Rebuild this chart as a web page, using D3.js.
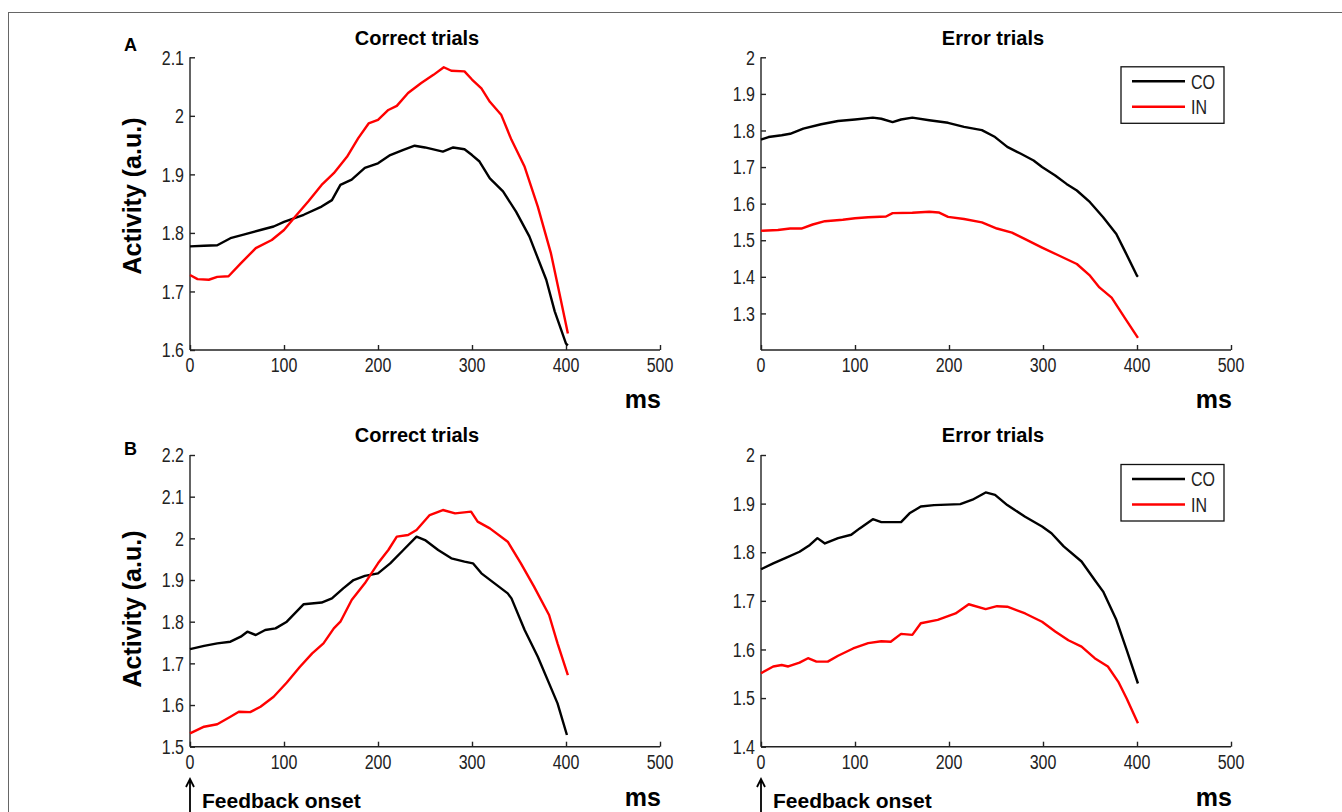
<!DOCTYPE html>
<html>
<head>
<meta charset="utf-8">
<script src="https://cdn.jsdelivr.net/npm/d3@7"></script>
<style>
  html, body { margin: 0; padding: 0; background: #fff; }
  svg { display: block; }
  .tick-label { font-family: "Liberation Sans", Arial, sans-serif; font-size: 20px; fill: #222; }
  .bold { font-family: "Liberation Sans", Arial, sans-serif; font-weight: bold; fill: #000; }
</style>
</head>
<body>
<svg id="fig" width="1342" height="812"></svg>
<script>
// ---- data: [ms, activity] samples for each condition ----
const msTicks = [0, 100, 200, 300, 400, 500];
const seriesNames = ["CO", "IN"];
const seriesColors = ["#000000", "#ff0000"];

const aCorrectCO = [[0,1.777],[15,1.778],[29,1.779],[43,1.791],[57,1.797],[75,1.805],[89,1.811],[100,1.819],[121,1.831],[140,1.845],[151,1.856],[160,1.882],[172,1.891],[186,1.911],[200,1.919],[213,1.933],[227,1.942],[239,1.949],[250,1.946],[269,1.939],[280,1.946],[292,1.943],[300,1.933],[308,1.922],[319,1.893],[333,1.871],[347,1.836],[361,1.794],[379,1.720],[388,1.666],[400,1.611],[402,1.608]];
const aCorrectIN = [[0,1.728],[8,1.721],[20,1.720],[29,1.725],[41,1.726],[54,1.748],[70,1.774],[87,1.788],[100,1.805],[112,1.828],[126,1.854],[140,1.882],[153,1.902],[167,1.930],[179,1.962],[190,1.987],[200,1.993],[211,2.010],[220,2.017],[232,2.039],[246,2.056],[259,2.070],[270,2.083],[278,2.077],[292,2.076],[300,2.062],[310,2.047],[319,2.024],[331,2.002],[342,1.959],[356,1.913],[370,1.845],[384,1.765],[393,1.697],[402,1.628]];
const aErrorCO = [[0,1.775],[8,1.782],[22,1.787],[31,1.791],[45,1.805],[64,1.817],[82,1.826],[100,1.830],[119,1.835],[128,1.832],[140,1.823],[149,1.830],[161,1.835],[179,1.828],[199,1.821],[216,1.810],[235,1.801],[249,1.782],[262,1.755],[276,1.737],[290,1.718],[299,1.700],[313,1.677],[325,1.654],[336,1.636],[350,1.604],[364,1.563],[378,1.517],[387,1.471],[400,1.403],[401,1.400]];
const aErrorIN = [[0,1.526],[18,1.528],[31,1.532],[43,1.532],[55,1.543],[68,1.552],[87,1.556],[100,1.560],[114,1.563],[133,1.565],[140,1.574],[161,1.575],[179,1.578],[189,1.576],[199,1.564],[216,1.558],[235,1.549],[251,1.532],[267,1.521],[281,1.503],[299,1.480],[318,1.457],[336,1.435],[350,1.403],[360,1.371],[373,1.343],[387,1.288],[401,1.233]];
const bCorrectCO = [[0,1.734],[15,1.742],[29,1.748],[43,1.752],[54,1.764],[61,1.776],[70,1.768],[80,1.780],[91,1.784],[103,1.800],[121,1.842],[140,1.846],[151,1.856],[163,1.880],[174,1.900],[186,1.910],[200,1.916],[213,1.940],[227,1.972],[241,2.004],[250,1.996],[264,1.972],[278,1.952],[292,1.944],[301,1.940],[310,1.916],[324,1.892],[338,1.868],[342,1.856],[356,1.780],[370,1.716],[382,1.652],[391,1.604],[401,1.528]];
const bCorrectIN = [[0,1.532],[15,1.548],[29,1.554],[43,1.572],[52,1.584],[64,1.583],[75,1.596],[89,1.620],[103,1.654],[117,1.692],[130,1.724],[142,1.748],[153,1.784],[160,1.800],[172,1.852],[186,1.892],[200,1.940],[211,1.972],[220,2.004],[232,2.008],[241,2.020],[255,2.056],[269,2.068],[282,2.060],[299,2.064],[306,2.040],[319,2.024],[338,1.992],[352,1.940],[366,1.884],[382,1.816],[391,1.748],[402,1.672]];
const bErrorCO = [[0,1.765],[13,1.777],[27,1.789],[41,1.801],[52,1.815],[60,1.829],[68,1.818],[82,1.829],[96,1.836],[105,1.849],[119,1.868],[128,1.862],[149,1.862],[158,1.880],[170,1.894],[184,1.897],[212,1.899],[225,1.908],[239,1.923],[249,1.918],[262,1.897],[281,1.873],[299,1.853],[309,1.839],[322,1.812],[341,1.781],[355,1.743],[364,1.719],[378,1.661],[389,1.599],[401,1.530]];
const bErrorIN = [[0,1.551],[13,1.565],[22,1.568],[29,1.565],[41,1.573],[50,1.582],[59,1.575],[71,1.575],[82,1.587],[98,1.602],[114,1.613],[128,1.617],[138,1.616],[149,1.632],[161,1.630],[170,1.654],[188,1.661],[207,1.674],[221,1.693],[239,1.683],[251,1.689],[262,1.688],[281,1.674],[299,1.657],[313,1.637],[327,1.619],[341,1.606],[355,1.582],[369,1.565],[380,1.534],[389,1.499],[401,1.448]];

const aCorrectTicks = [1.6, 1.7, 1.8, 1.9, 2.0, 2.1];
const aErrorTicks = [1.3, 1.4, 1.5, 1.6, 1.7, 1.8, 1.9, 2.0];
const bCorrectTicks = [1.5, 1.6, 1.7, 1.8, 1.9, 2.0, 2.1, 2.2];
const bErrorTicks = [1.4, 1.5, 1.6, 1.7, 1.8, 1.9, 2.0];

// ---- panel layout ----
const panels = [
  { title: "Correct trials", yDomain: [1.6, 2.1], yTicks: aCorrectTicks, series: [aCorrectCO, aCorrectIN],
    left: 190, right: 660, top: 57.3, bottom: 350, titleX: 417, titleY: 45, legend: false, onset: false },
  { title: "Error trials", yDomain: [1.2, 2.0], yTicks: aErrorTicks, series: [aErrorCO, aErrorIN],
    left: 761, right: 1231, top: 57.3, bottom: 350, titleX: 993, titleY: 45, legend: true, onset: false },
  { title: "Correct trials", yDomain: [1.5, 2.2], yTicks: bCorrectTicks, series: [bCorrectCO, bCorrectIN],
    left: 190, right: 660, top: 455, bottom: 746.7, titleX: 417, titleY: 442, legend: false, onset: true },
  { title: "Error trials", yDomain: [1.4, 2.0], yTicks: bErrorTicks, series: [bErrorCO, bErrorIN],
    left: 761, right: 1231, top: 455, bottom: 746.7, titleX: 993, titleY: 442, legend: true, onset: true }
];

const svg = d3.select("#fig");

// condensed label: regular face squeezed horizontally around its anchor
function narrowText(parent, x, y, anchor, str) {
  return parent.append("text")
    .attr("class", "tick-label")
    .attr("text-anchor", anchor)
    .attr("transform", `translate(${x},${y}) scale(0.8,1)`)
    .text(str);
}

// outer frame
svg.append("rect")
  .attr("x", 8.5).attr("y", 12.5).attr("width", 1345).attr("height", 820)
  .attr("fill", "none").attr("stroke", "#666").attr("stroke-width", 1);

// panel letters and y-axis labels
[["A", 51, 196], ["B", 455, 609]].forEach(([letter, ly, labelY]) => {
  svg.append("text").attr("class", "bold").attr("x", 124).attr("y", ly)
    .attr("font-size", 18).text(letter);
  svg.append("text").attr("class", "bold")
    .attr("transform", `translate(141,${labelY}) rotate(-90)`)
    .attr("text-anchor", "middle").attr("font-size", 25)
    .text("Activity (a.u.)");
});

panels.forEach(p => {
  const x = d3.scaleLinear().domain([0, 500]).range([p.left, p.right]);
  const y = d3.scaleLinear().domain(p.yDomain).range([p.bottom, p.top]);
  const g = svg.append("g");

  // title
  g.append("text").attr("class", "bold")
    .attr("x", p.titleX).attr("y", p.titleY)
    .attr("text-anchor", "middle").attr("font-size", 20)
    .text(p.title);

  // x axis with inward ticks
  const xAxis = g.append("g").attr("transform", `translate(0,${p.bottom})`)
    .call(d3.axisTop(x).tickValues(msTicks).tickSize(5).tickFormat(""));
  xAxis.select(".domain").attr("d", `M${p.left},0H${p.right}`);
  xAxis.selectAll("line, path").attr("stroke", "#222").attr("stroke-width", 1.4);
  msTicks.forEach(d => narrowText(g, x(d), p.bottom + 22, "middle", d));

  // y axis with inward ticks
  const yAxis = g.append("g").attr("transform", `translate(${p.left},0)`)
    .call(d3.axisRight(y).tickValues(p.yTicks).tickSize(5).tickFormat(""));
  yAxis.select(".domain").attr("d", `M0,${p.top}V${p.bottom}`);
  yAxis.selectAll("line, path").attr("stroke", "#222").attr("stroke-width", 1.4);
  p.yTicks.forEach(d => narrowText(g, p.left - 6, y(d) + 7.2, "end",
    d3.format(".1f")(d).replace(/\.0$/, "")));

  // curves
  const line = d3.line().x(d => x(d[0])).y(d => y(d[1]));
  p.series.forEach((s, i) => {
    g.append("path").datum(s)
      .attr("d", line)
      .attr("fill", "none")
      .attr("stroke", seriesColors[i])
      .attr("stroke-width", 2.4)
      .attr("stroke-linejoin", "round");
  });

  // legend
  if (p.legend) {
    const lx = 1121, ly = p.top + 9.5;
    const lg = g.append("g").attr("transform", `translate(${lx},${ly})`);
    lg.append("rect").attr("width", 103).attr("height", 56.5)
      .attr("fill", "#fff").attr("stroke", "#111").attr("stroke-width", 1.3);
    seriesNames.forEach((name, i) => {
      const yy = 14.5 + i * 25.5;
      lg.append("line").attr("x1", 11).attr("x2", 64).attr("y1", yy).attr("y2", yy)
        .attr("stroke", seriesColors[i]).attr("stroke-width", 2.6);
      narrowText(lg, 70, yy + 7.2, "start", name);
    });
  }

  // x-axis unit
  g.append("text").attr("class", "bold")
    .attr("x", p.right + 1).attr("y", p.onset ? 806 : 408)
    .attr("text-anchor", "end").attr("font-size", 25).text("ms");

  // stimulus onset marker
  if (p.onset) {
    const ax = x(0);
    g.append("path")
      .attr("d", `M${ax},812V779M${ax - 4},787L${ax},779L${ax + 4},787`)
      .attr("fill", "none").attr("stroke", "#000").attr("stroke-width", 1.8);
    g.append("text").attr("class", "bold")
      .attr("x", ax + 12).attr("y", 807.5).attr("font-size", 21)
      .text("Feedback onset");
  }
});
</script>
</body>
</html>
